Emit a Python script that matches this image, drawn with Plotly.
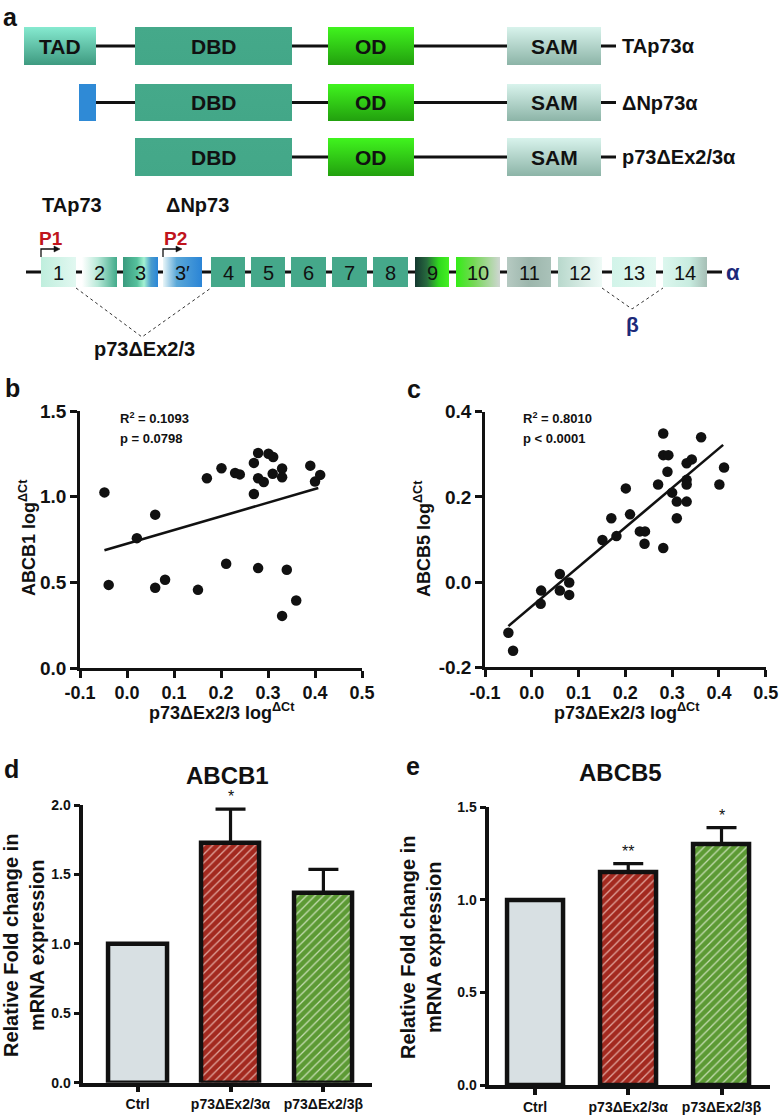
import plotly.graph_objects as go

W, H = 780, 1115
FONT = "Liberation Sans, Arial, sans-serif"

# ---------------- panel a : protein isoforms (schematic units) ----------------
iso_labels = ["TAp73α", "ΔNp73α", "p73ΔEx2/3α"]
iso_row_top = [27, 84, 138]
iso_row_bot = [65, 121, 176]
dom_names = ["TAD", "DBD", "OD", "SAM"]
dom_start = [24, 135, 328, 507]
dom_end = [96, 292, 414, 601]
iso_has = [[1, 1, 1, 1], [0, 1, 1, 1], [0, 1, 1, 1]]
dn_start, dn_end = 79, 96          # short ΔN-specific box

# ---------------- panel a : exon map ----------------
exon_labels = ["1", "2", "3", "3′", "4", "5", "6", "7", "8", "9", "10", "11", "12", "13", "14"]
exon_start = [41, 82, 123, 163, 211, 251, 291, 332, 373, 415, 456, 507, 558, 612, 663]
exon_end = [76, 117, 158, 202, 245, 285, 326, 367, 408, 449, 500, 551, 602, 656, 707]
exon_colors = [
    [[0, "#bfeedd"], [1, "#e2f8f1"]],
    [[0, "#ffffff"], [0.45, "#b8e9d8"], [1, "#43ab8b"]],
    [[0, "#3a9a7e"], [0.4, "#55c09c"], [0.6, "#a4f2d2"], [0.8, "#4a9ccc"], [1, "#2a86d8"]],
    [[0, "#eaf6f8"], [0.35, "#5aa8d8"], [1, "#2a84d6"]],
    [[0, "#45a88a"], [1, "#45a88a"]],
    [[0, "#45a88a"], [1, "#45a88a"]],
    [[0, "#45a88a"], [1, "#45a88a"]],
    [[0, "#45a88a"], [1, "#45a88a"]],
    [[0, "#45a88a"], [1, "#45a88a"]],
    [[0, "#143830"], [0.35, "#276a3e"], [0.7, "#30d81e"], [1, "#44f022"]],
    [[0, "#33ec16"], [0.4, "#74d854"], [1, "#cfd6d2"]],
    [[0, "#b6cac2"], [0.5, "#9cb6ac"], [1, "#aac2b9"]],
    [[0, "#b8d8cc"], [1, "#eefaf6"]],
    [[0, "#d2f4e9"], [1, "#e2f8f1"]],
    [[0, "#dcf7ee"], [0.6, "#c8ece0"], [1, "#a6bfb6"]],
]
exon_top, exon_bot = 257, 287

# ---------------- panel b : ABCB1 vs p73ΔEx2/3 ----------------
b_x = [-0.048, -0.039, 0.021, 0.060, 0.060, 0.081, 0.151, 0.170, 0.201, 0.211,
       0.230, 0.240, 0.270, 0.279, 0.270, 0.279, 0.291, 0.301, 0.311, 0.310,
       0.330, 0.330, 0.279, 0.340, 0.360, 0.390, 0.400, 0.411, 0.330]
b_y = [1.025, 0.485, 0.758, 0.895, 0.468, 0.515, 0.456, 1.107, 1.166, 0.608,
       1.138, 1.130, 1.197, 1.255, 1.016, 1.107, 1.086, 1.250, 1.232, 1.134,
       1.164, 1.113, 0.583, 0.573, 0.394, 1.181, 1.088, 1.127, 0.304]
b_fit = {"slope": 0.80, "intercept": 0.725, "x0": -0.048, "x1": 0.407}
b_stats = ["R<sup>2</sup> = 0.1093", "p = 0.0798"]

# ---------------- panel c : ABCB5 vs p73ΔEx2/3 ----------------
c_x = [0.281, 0.362, 0.281, 0.292, 0.331, 0.342, 0.411, 0.290, 0.270, 0.331,
       0.331, 0.401, 0.201, 0.300, 0.310, 0.331, 0.170, 0.210, 0.310, 0.151,
       0.181, 0.231, 0.242, 0.241, 0.281, 0.060, 0.080, 0.020, 0.060, 0.080,
       0.019, -0.050, -0.040]
c_y = [0.349, 0.340, 0.298, 0.298, 0.279, 0.288, 0.269, 0.259, 0.229, 0.240,
       0.229, 0.229, 0.220, 0.210, 0.189, 0.189, 0.150, 0.159, 0.150, 0.099,
       0.108, 0.119, 0.119, 0.090, 0.080, 0.019, -0.001, -0.020, -0.020, -0.030,
       -0.051, -0.119, -0.161]
c_fit = {"slope": 0.927, "intercept": -0.057, "x0": -0.05, "x1": 0.409}
c_stats = ["R<sup>2</sup> = 0.8010", "p &lt; 0.0001"]

scatter_ticks = [-0.1, 0.0, 0.1, 0.2, 0.3, 0.4, 0.5]
b_yticks = [0.0, 0.5, 1.0, 1.5]
c_yticks = [-0.2, 0.0, 0.2, 0.4]

# ---------------- panels d / e : bar charts ----------------
bar_cats = ["Ctrl", "p73ΔEx2/3α", "p73ΔEx2/3β"]
bar_fill = ["#d8e0e3", "#a3291f", "#5c9a34"]
bar_stripe = ["#d8e0e3", "#e0a49c", "#c4dcb0"]
d_vals = [1.0, 1.725, 1.365]
d_err = [0.0, 0.245, 0.172]
d_sig = ["", "*", ""]
e_vals = [1.0, 1.150, 1.300]
e_err = [0.0, 0.046, 0.090]
e_sig = ["", "**", "*"]
d_yticks = [0.0, 0.5, 1.0, 1.5, 2.0]
e_yticks = [0.0, 0.5, 1.0, 1.5]

fig = go.Figure()

def px_dom(a, b, total):
    return [a / total, b / total]

def py_dom(top, bot):
    return [(H - bot) / H, (H - top) / H]

# ---------- canvas helpers (x5/y5 = pixel-like schematic units) ----------
def gbox(x0, x1, y0, y1, scale, orient):
    fig.add_trace(go.Scatter(
        x=[x0, x1, x1, x0, x0], y=[y0, y0, y1, y1, y0], mode="lines",
        fill="toself", fillgradient=dict(type=orient, colorscale=scale),
        line=dict(width=0, color="rgba(0,0,0,0)"), hoverinfo="skip",
        showlegend=False, xaxis="x5", yaxis="y5"))

shapes = []
ann = []

def cline(x0, y0, x1, y1, w=3, color="#111", dash="solid"):
    shapes.append(dict(type="line", xref="x5", yref="y5", x0=x0, y0=y0, x1=x1, y1=y1,
                       line=dict(color=color, width=w, dash=dash), layer="below"))

def ctext(x, y, text, size, color="#111", bold=True, xanchor="center", angle=0,
          yanchor="middle", family=FONT):
    ann.append(dict(xref="x5", yref="y5", x=x, y=y, text=text, showarrow=False,
                    xanchor=xanchor, yanchor=yanchor, textangle=angle,
                    font=dict(family=family, size=size, color=color,
                              weight="bold" if bold else "normal")))

# vertical gradients: position 0 = bottom of the box, 1 = top
dom_scales = {
    "TAD": [[0, "#3e9a80"], [1, "#86ead0"]],
    "DBD": [[0, "#43a788"], [1, "#45a98a"]],
    "OD": [[0, "#22a00e"], [1, "#40f41e"]],
    "SAM": [[0, "#8cb4a7"], [1, "#d8f3ec"]],
}

for r, lab in enumerate(iso_labels):
    yt, yb = iso_row_top[r], iso_row_bot[r]
    yc = (yt + yb) / 2
    left = dom_end[0] if r == 0 else (dn_end if r == 1 else dom_start[1])
    cline(left, yc, dom_start[3], yc)
    cline(dom_end[3], yc, dom_end[3] + 15, yc)
    if r == 1:
        gbox(dn_start, dn_end, yt, yb, [[0, "#2f8ad6"], [1, "#2f8ad6"]], "vertical")
    for i, nm in enumerate(dom_names):
        if iso_has[r][i]:
            gbox(dom_start[i], dom_end[i], yt, yb, dom_scales[nm], "vertical")
            ctext((dom_start[i] + dom_end[i]) / 2, yc, nm, 21)
    ctext(dom_end[3] + 19, yc, lab, 20, xanchor="left")

# exon map
exon_y = (exon_top + exon_bot) / 2
cline(26, exon_y, exon_end[-1] + 15, exon_y)
for i, lab in enumerate(exon_labels):
    gbox(exon_start[i], exon_end[i], exon_top, exon_bot, exon_colors[i], "horizontal")
    ctext((exon_start[i] + exon_end[i]) / 2, exon_y + 1, lab, 20, bold=False)
ctext(exon_end[-1] + 26, exon_y, "α", 22, color="#1c2a7a")
ctext(72, 205, "TAp73", 20)
ctext(197, 205, "ΔNp73", 20)
ctext(51, 238, "P1", 19, color="#c0141c")
ctext(175, 238, "P2", 19, color="#c0141c")
for xs in [exon_start[0], exon_start[3]]:
    shapes.append(dict(type="path", xref="x5", yref="y5",
                       path=f"M{xs},{exon_top} V249 H{xs + 14}",
                       line=dict(color="#111", width=1.3)))
    shapes.append(dict(type="path", xref="x5", yref="y5",
                       path=f"M{xs + 13},246 L{xs + 19},249 L{xs + 13},252 Z",
                       fillcolor="#111", line=dict(color="#111", width=0.5)))
# splice connectors
shapes.append(dict(type="path", xref="x5", yref="y5",
                   path=f"M{exon_end[0]},{exon_bot + 1} L142,337 L{exon_start[4]},{exon_bot + 1}",
                   line=dict(color="#333", width=1, dash="dot")))
ctext(144, 349, "p73ΔEx2/3", 20)
shapes.append(dict(type="path", xref="x5", yref="y5",
                   path=f"M{exon_end[12]},{exon_bot + 1} L632,309 L{exon_start[14]},{exon_bot + 1}",
                   line=dict(color="#333", width=1, dash="dot")))
ctext(632, 324, "β", 21, color="#1c2a7a")

# panel letters
for (x, y, t) in [(10, 17, "a"), (12, 388, "b"), (414, 389, "c"), (11, 769, "d"), (413, 766, "e")]:
    ctext(x, y, t, 25)

# ---------- panel b & c scatter ----------
def scatter_panel(xs, ys, fit, xa, ya):
    fig.add_trace(go.Scatter(x=xs, y=ys, mode="markers",
                             marker=dict(size=10.5, color="#111"),
                             showlegend=False, xaxis=xa, yaxis=ya, cliponaxis=False))
    fx = [fit["x0"], fit["x1"]]
    fy = [fit["intercept"] + fit["slope"] * v for v in fx]
    fig.add_trace(go.Scatter(x=fx, y=fy, mode="lines", line=dict(color="#111", width=2.6),
                             showlegend=False, xaxis=xa, yaxis=ya))

scatter_panel(b_x, b_y, b_fit, "x", "y")
scatter_panel(c_x, c_y, c_fit, "x2", "y2")

# ---------- panels d & e bars ----------
def bar_panel(vals, errs, xa, ya, width):
    for i, cat in enumerate(bar_cats):
        pat = dict(shape="" if i == 0 else "/", fgcolor=bar_stripe[i], bgcolor=bar_fill[i],
                   size=6, solidity=0.22, fillmode="replace")
        fig.add_trace(go.Bar(
            x=[i], y=[vals[i]], width=width,
            marker=dict(color=bar_fill[i], line=dict(color="#111", width=4.5), pattern=pat),
            error_y=dict(type="data", array=[errs[i]], arrayminus=[0], symmetric=False,
                         color="#111", thickness=3.2, width=15, visible=errs[i] > 0),
            showlegend=False, xaxis=xa, yaxis=ya))

bar_panel(d_vals, d_err, "x3", "y3", 0.63)
bar_panel(e_vals, e_err, "x4", "y4", 0.60)

# ---------- axes ----------
def sc_x(dom, anchor):
    return dict(domain=dom, anchor=anchor, range=[-0.1, 0.5], tickvals=scatter_ticks,
                ticktext=[f"{v:.1f}" for v in scatter_ticks], showline=True, linewidth=2.6,
                linecolor="#111", ticks="outside", ticklen=7, tickwidth=2.6, tickcolor="#111",
                tickfont=dict(family=FONT, size=18, color="#111", weight="bold"),
                showgrid=False, zeroline=False, automargin=False)

def sc_y(dom, anchor, rng, tv):
    return dict(domain=dom, anchor=anchor, range=rng, tickvals=tv,
                ticktext=[f"{v:.1f}" for v in tv], showline=True, linewidth=2.6,
                linecolor="#111", ticks="outside", ticklen=7, tickwidth=2.6, tickcolor="#111",
                tickfont=dict(family=FONT, size=19, color="#111", weight="bold"),
                showgrid=False, zeroline=False, automargin=False)

def bar_x(dom, anchor, rng):
    return dict(domain=dom, anchor=anchor, range=rng, tickvals=[0, 1, 2], ticktext=bar_cats,
                showline=True, linewidth=3.5, linecolor="#111", ticks="outside", ticklen=6,
                tickwidth=3.5, tickcolor="#111", tickangle=0,
                tickfont=dict(family=FONT, size=14, color="#111", weight="bold"),
                showgrid=False, zeroline=False, automargin=False)

def bar_y(dom, anchor, rng, tv):
    return dict(domain=dom, anchor=anchor, range=rng, tickvals=tv,
                ticktext=[f"{v:.1f}" for v in tv], showline=True, linewidth=3.5,
                linecolor="#111", ticks="outside", ticklen=6, tickwidth=3, tickcolor="#111",
                tickfont=dict(family=FONT, size=14, color="#111", weight="bold"),
                showgrid=False, zeroline=False, automargin=False)

layout_axes = dict(
    xaxis=sc_x(px_dom(80, 362, W), "y"),
    yaxis=sc_y(py_dom(411, 668), "x", [0, 1.5], b_yticks),
    xaxis2=sc_x(px_dom(485, 765.7, W), "y2"),
    yaxis2=sc_y(py_dom(411.7, 667.3), "x2", [-0.2, 0.4], c_yticks),
    xaxis3=bar_x(px_dom(83.3, 371.7, W), "y3", [-0.585, 2.52]),
    yaxis3=bar_y(py_dom(805, 1082.7), "x3", [0, 2.0], d_yticks),
    xaxis4=bar_x(px_dom(489.3, 770, W), "y4", [-0.49, 2.52]),
    yaxis4=bar_y(py_dom(807.3, 1085), "x4", [0, 1.5], e_yticks),
    xaxis5=dict(domain=[0, 1], anchor="y5", range=[0, W], visible=False, fixedrange=True,
                automargin=False),
    yaxis5=dict(domain=[0, 1], anchor="x5", range=[H, 0], visible=False, fixedrange=True,
                automargin=False),
)

# axis titles and stats text
sup = "<sup>ΔCt</sup>"
ctext(27, 538, "ABCB1 log" + sup, 18, angle=-90)
ctext(422, 539, "ABCB5 log" + sup, 18, angle=-90)
ctext(222, 711, "p73ΔEx2/3 log" + sup, 18)
ctext(627, 711, "p73ΔEx2/3 log" + sup, 18)
ctext(118, 418, b_stats[0], 13, xanchor="left")
ctext(118, 438, b_stats[1], 13, xanchor="left")
ctext(521, 418, c_stats[0], 13, xanchor="left")
ctext(521, 438, c_stats[1], 13, xanchor="left")
ctext(227, 775, "ABCB1", 24)
ctext(620, 772, "ABCB5", 24)
ytitle = "Relative Fold change in<br>mRNA expression"
ctext(24, 946, ytitle, 20, angle=-90)
ctext(421, 948, ytitle, 20, angle=-90)

# significance stars placed above error bars (data coordinates)
for vals, errs, sig, xa, ya in [(d_vals, d_err, d_sig, "x3", "y3"), (e_vals, e_err, e_sig, "x4", "y4")]:
    for i, s in enumerate(sig):
        if s:
            ann.append(dict(xref=xa, yref=ya, x=i, y=vals[i] + errs[i], text=s, showarrow=False,
                            yanchor="bottom", yshift=2, font=dict(family=FONT, size=16, color="#111")))

fig.update_layout(
    width=W, height=H, margin=dict(l=0, r=0, t=0, b=0, pad=0, autoexpand=False),
    showlegend=False,
    paper_bgcolor="white", plot_bgcolor="rgba(0,0,0,0)",
    font=dict(family=FONT, color="#111"),
    shapes=shapes, annotations=ann, bargap=0, **layout_axes,
)

fig.write_html("out.html", config={"displayModeBar": False},
               post_script="document.body.style.margin='0';document.body.style.padding='0';"
                           "document.body.style.overflow='hidden';")
